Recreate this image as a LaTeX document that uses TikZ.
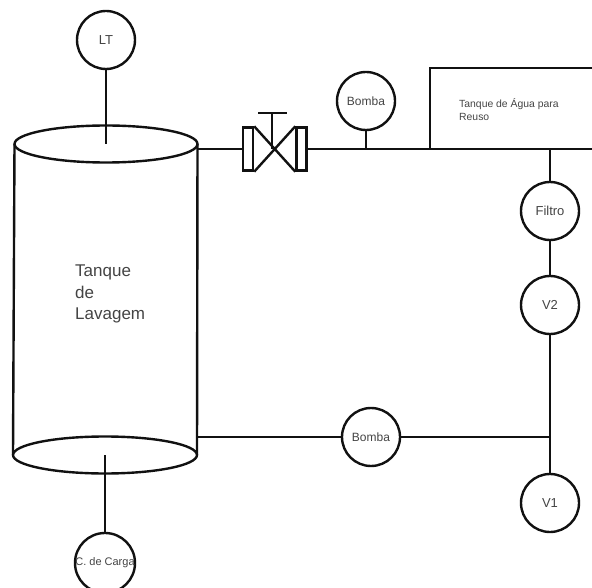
\documentclass[tikz,border=0pt]{standalone}
\usepackage{fontspec}
\setmainfont{Liberation Sans}
\definecolor{inkc}{HTML}{111111}
\definecolor{txtc}{HTML}{444444}
\tikzset{
  pipe/.style={draw=inkc,line width=2.4pt},
  instr/.style={circle,draw=inkc,line width=2.4pt,minimum size=58pt,inner sep=0pt,text=txtc,font=\fontsize{12}{14}\selectfont},
  valvebody/.style={draw=inkc,line width=2.4pt,minimum width=10pt,minimum height=43pt,inner sep=0pt},
  lbl/.style={text=txtc,inner sep=0pt,align=left,anchor=north west}
}
\begin{document}
\begin{tikzpicture}[x=1pt,y=-1pt]
\useasboundingbox (0,0) rectangle (592,588);
\clip (0,0) rectangle (592,588);
% instruments
\node[instr,font=\fontsize{13}{15}\selectfont] (lt) at (106,40) {LT};
\node[instr] (bomba1) at (366,101) {Bomba};
\node[instr,font=\fontsize{13}{15}\selectfont] (filtro) at (550,211) {Filtro};
\node[instr,font=\fontsize{13}{15}\selectfont] (v2) at (550,305) {V2};
\node[instr,font=\fontsize{13}{15}\selectfont] (v1) at (550,503) {V1};
\node[instr] (bomba2) at (371,437) {Bomba};
\node[instr,font=\fontsize{11}{13}\selectfont] (carga) at (105,563) {C. de Carga};
% cylinder
\coordinate (topc) at (106,144);
\coordinate (botc) at (105,455);
\draw[pipe] (topc) ellipse [x radius=91.5,y radius=18.5];
\draw[pipe] (botc) ellipse [x radius=92,y radius=18.5];
\coordinate (tl) at (14.5,144);
\coordinate (tr) at (197.5,144);
\coordinate (bl) at (13,455);
\coordinate (br) at (197,455);
\draw[pipe] (tl) -- (bl);
\draw[pipe] (tr) -- (br);
\node[lbl,font=\fontsize{17}{21.5}\selectfont] (tanque) at (75,265) {Tanque\\de\\Lavagem};
\draw[pipe] (lt) -- (topc);
\draw[pipe] (botc) -- (carga);
% valve
\node[valvebody] (vl) at (248,149) {};
\node[valvebody] (vr) at (301.5,149) {};
\coordinate (vc) at (272,149);
\coordinate (vt) at (272,113);
\coordinate (vbl) at (258,113);
\coordinate (vbr) at (287,113);
\draw[pipe] (vl.north east) -- (vr.south west);
\draw[pipe] (vl.south east) -- (vr.north west);
\draw[pipe] (vc) -- (vt);
\draw[pipe] (vbl) -- (vbr);
% top pipeline
\coordinate (ps) at (197.5,149);
\coordinate (pr) at (595,149);
\coordinate (j1) at (366,149);
\coordinate (j2) at (550,149);
\coordinate (j3) at (430,149);
\coordinate (j4) at (550,437);
\draw[pipe] (ps) -- (vl.west);
\draw[pipe] (vr.east) -- (pr);
\draw[pipe] (bomba1) -- (j1);
\draw[pipe] (j2) -- (filtro);
\draw[pipe] (filtro) -- (v2);
\draw[pipe] (v2) -- (v1);
% reuse tank
\coordinate (rt) at (430,68);
\coordinate (rr) at (595,68);
\draw[pipe] (j3) -- (rt) -- (rr);
\node[lbl,font=\fontsize{10.4}{13}\selectfont] (reuso) at (459,98) {Tanque de Água para\\Reuso};
% bottom pipeline
\coordinate (bs) at (197,437);
\draw[pipe] (bs) -- (bomba2);
\draw[pipe] (bomba2) -- (j4);
\end{tikzpicture}
\end{document}
